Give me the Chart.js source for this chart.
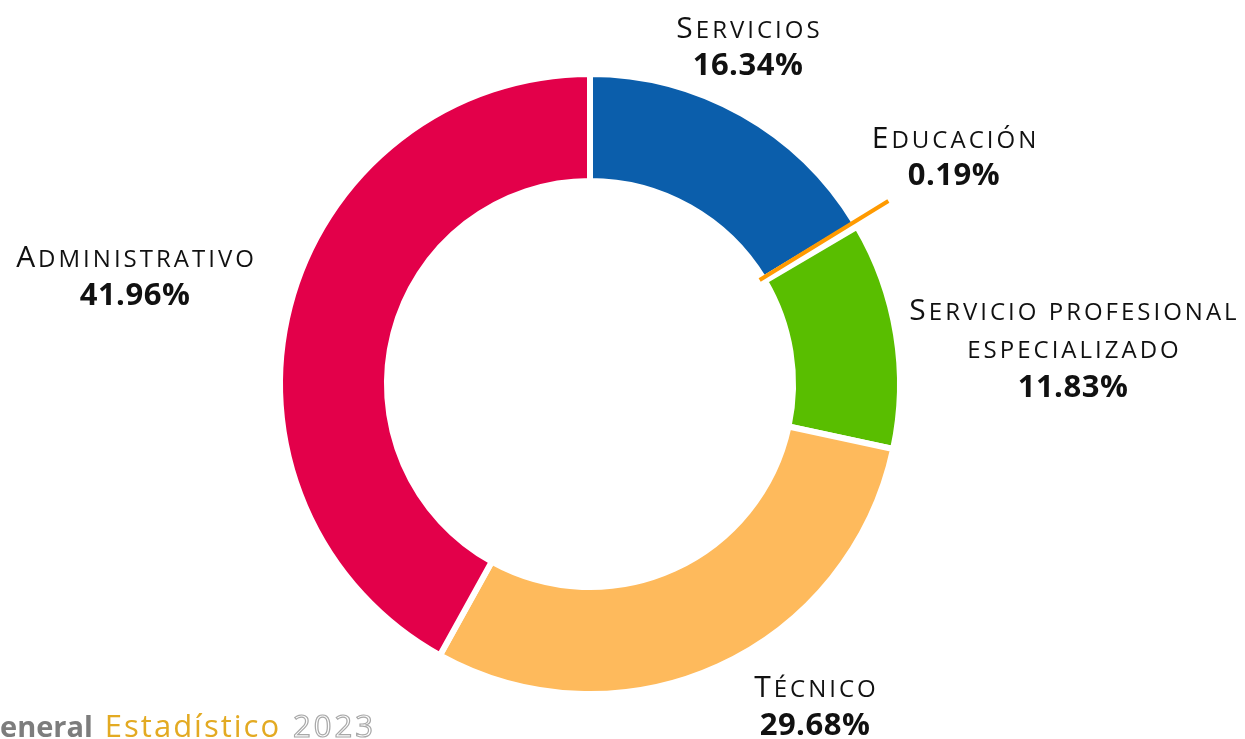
<!DOCTYPE html>
<html>
<head>
<meta charset="utf-8">
<script src="https://cdn.jsdelivr.net/npm/chart.js@4.4.1/dist/chart.umd.min.js"></script>
<style>
  html, body { margin: 0; padding: 0; background: #ffffff; }
  #wrap { position: relative; width: 1245px; height: 739px; overflow: hidden; }
</style>
</head>
<body>
<div id="wrap"><canvas id="c" width="1245" height="739"></canvas></div>
<script>
// ---- data ----
const categories = ["Servicios", "Educación", "Servicio profesional especializado", "Técnico", "Administrativo"];
const shares = [16.34, 0.19, 11.83, 29.68, 41.96];
const shareLabels = ["16.34%", "0.19%", "11.83%", "29.68%", "41.96%"];
const sliceColors = ["#0B5EAB", "#FF9A00", "#59BE00", "#FEBA5C", "#E3004A"];

// ---- label layout (text anchors, not data) ----
const labelLayout = [
  { cx: 748, lines: [{t: "Servicios", first: true}], base: 38, pctBase: 75 },
  { cx: 954, lines: [{t: "Educación", first: true}], base: 148, pctBase: 185 },
  { cx: 1073, lines: [{t: "Servicio profesional", first: true}, {t: "especializado", first: false}], base: 320, pctBase: 397 },
  { cx: 815, lines: [{t: "Técnico", first: true}], base: 697, pctBase: 735 },
  { cx: 135, lines: [{t: "Administrativo", first: true}], base: 267, pctBase: 305 }
];

const FONT = '"Open Sans", "DejaVu Sans", sans-serif';

function smallCapsWidth(ctx, text, first, big, small) {
  let w = 0;
  const head = first ? text[0] : '';
  const rest = (first ? text.slice(1) : text).toUpperCase();
  if (head) { ctx.font = `400 ${big}px ${FONT}`; w += ctx.measureText(head.toUpperCase()).width; }
  ctx.font = `400 ${small}px ${FONT}`; w += ctx.measureText(rest).width;
  return w;
}
function drawSmallCaps(ctx, text, first, cx, base, big, small) {
  const w = smallCapsWidth(ctx, text, first, big, small);
  let x = cx - w / 2;
  ctx.textAlign = 'left';
  ctx.textBaseline = 'alphabetic';
  const head = first ? text[0] : '';
  const rest = (first ? text.slice(1) : text).toUpperCase();
  if (head) {
    ctx.font = `400 ${big}px ${FONT}`;
    ctx.fillText(head.toUpperCase(), x, base);
    x += ctx.measureText(head.toUpperCase()).width;
  }
  ctx.font = `400 ${small}px ${FONT}`;
  ctx.fillText(rest, x, base);
}

const labelPlugin = {
  id: 'labels',
  afterDatasetsDraw(chart) {
    const ctx = chart.ctx;
    const meta = chart.getDatasetMeta(0);
    // Educación leader line, drawn along its arc's mid-angle
    const arc = meta.data[1];
    const p = arc.getProps(['x', 'y', 'startAngle', 'endAngle', 'innerRadius', 'outerRadius'], true);
    const mid = (p.startAngle + p.endAngle) / 2 - 0.012;
    const r0 = p.innerRadius - 4, r1 = p.outerRadius + 40;
    ctx.save();
    ctx.strokeStyle = sliceColors[1];
    ctx.lineWidth = 4;
    ctx.lineCap = 'butt';
    ctx.beginPath();
    ctx.moveTo(p.x + Math.cos(mid) * r0, p.y + Math.sin(mid) * r0);
    ctx.lineTo(p.x + Math.cos(mid) * r1, p.y + Math.sin(mid) * r1);
    ctx.stroke();

    // category labels
    ctx.fillStyle = '#111111';
    ctx.letterSpacing = '3px';
    labelLayout.forEach((L, i) => {
      L.lines.forEach((ln, k) => {
        drawSmallCaps(ctx, ln.t, ln.first, L.cx + 1.5, L.base + k * 38, 30, 24);
      });
    });
    ctx.letterSpacing = '0.5px';
    ctx.font = `700 31px ${FONT}`;
    ctx.textAlign = 'center';
    labelLayout.forEach((L, i) => {
      ctx.fillText(shareLabels[i], L.cx, L.pctBase);
    });

    // footer text (cut at left edge)
    const base = 737;
    ctx.textAlign = 'left';
    ctx.letterSpacing = '0px';
    ctx.font = `700 29px ${FONT}`;
    const gW = ctx.measureText('G').width;
    let x = -gW;
    ctx.fillStyle = '#7d7d7d';
    ctx.fillText('General', x, base);
    x += ctx.measureText('General').width + 12;
    ctx.letterSpacing = '2px';
    ctx.font = `400 31px ${FONT}`;
    ctx.fillStyle = '#E3AA22';
    ctx.fillText('Estadístico', x, base);
    x += ctx.measureText('Estadístico').width + 12;
    ctx.letterSpacing = '3px';
    ctx.strokeStyle = '#a8a8a8';
    ctx.lineWidth = 1.2;
    ctx.strokeText('2023', x, base);
    ctx.restore();
  }
};

new Chart(document.getElementById('c'), {
  type: 'doughnut',
  data: {
    labels: categories,
    datasets: [{
      data: shares,
      backgroundColor: sliceColors,
      borderColor: '#ffffff',
      borderWidth: 6,
      hoverOffset: 0
    }]
  },
  options: {
    responsive: false,
    animation: false,
    cutout: '65.5%',
    rotation: 0,
    layout: { padding: { left: 277, right: 342, top: 71, bottom: 42 } },
    plugins: { legend: { display: false }, tooltip: { enabled: false } },
    events: []
  },
  plugins: [labelPlugin]
});
</script>
</body>
</html>
